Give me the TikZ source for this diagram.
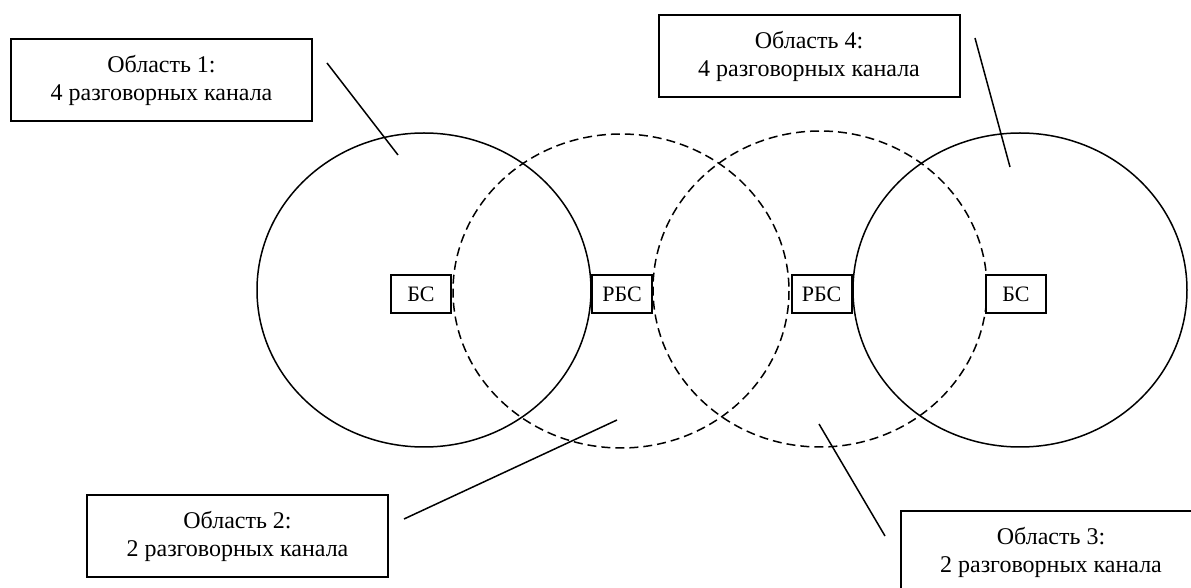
\documentclass[tikz,border=0pt]{standalone}
\usepackage{fontspec}
\setmainfont{Liberation Serif}
\usetikzlibrary{positioning}
\tikzstyle{area}=[rectangle,draw=black,line width=1pt,fill=white,minimum width=150.5pt,minimum height=41pt,inner sep=0pt,align=center,font=\fontsize{12}{14}\selectfont]
\tikzstyle{station}=[rectangle,draw=black,line width=1pt,fill=white,minimum width=30pt,minimum height=19pt,inner sep=0pt,font=\fontsize{11}{13}\selectfont]
\tikzstyle{cell}=[line width=0.75pt]
\tikzstyle{relay}=[cell,dash pattern=on 4.5pt off 2.5pt]
\tikzstyle{lead}=[line width=0.75pt]

\begin{document}
\begin{tikzpicture}[x=0.5pt,y=-0.5pt]
    \clip (0,0) rectangle (1191,588);
    \begin{scope}
      % coverage zones
      \coordinate (c1) at (424,290);
      \coordinate (c2) at (621,291);
      \coordinate (c3) at (820,289);
      \coordinate (c4) at (1020,290);
      \draw [cell]  (c1) ellipse [x radius=167,y radius=157];
      \draw [relay] (c2) ellipse [x radius=168,y radius=157];
      \draw [relay] (c3) ellipse [x radius=167,y radius=158];
      \draw [cell]  (c4) ellipse [x radius=167,y radius=157];

      % stations
      \node [station] (bs1)  at (421,294)   {БС};
      \node [station] (rbs1) at (622,294)   {РБС};
      \node [station] (rbs2) at (821.5,294) {РБС};
      \node [station] (bs2)  at (1016,294)  {БС};
    \end{scope}

    \begin{scope}
      % area labels
      \node [area] (a1) at (161.5,80)  {Область 1:\\4 разговорных канала};
      \node [area] (a2) at (237.5,536) {Область 2:\\2 разговорных канала};
      \node [area] (a3) at (1051,552)  {Область 3:\\2 разговорных канала};
      \node [area] (a4) at (809,56)    {Область 4:\\4 разговорных канала};

      \coordinate (p1) at (327,63);   \coordinate (q1) at (398,155);
      \coordinate (p2) at (404,519);  \coordinate (q2) at (617,420);
      \coordinate (p3) at (885,536);  \coordinate (q3) at (819,424);
      \coordinate (p4) at (975,38);   \coordinate (q4) at (1010,167);
      \draw [lead] (p1) -- (q1);
      \draw [lead] (p2) -- (q2);
      \draw [lead] (p3) -- (q3);
      \draw [lead] (p4) -- (q4);
    \end{scope}
\end{tikzpicture}
\end{document}
